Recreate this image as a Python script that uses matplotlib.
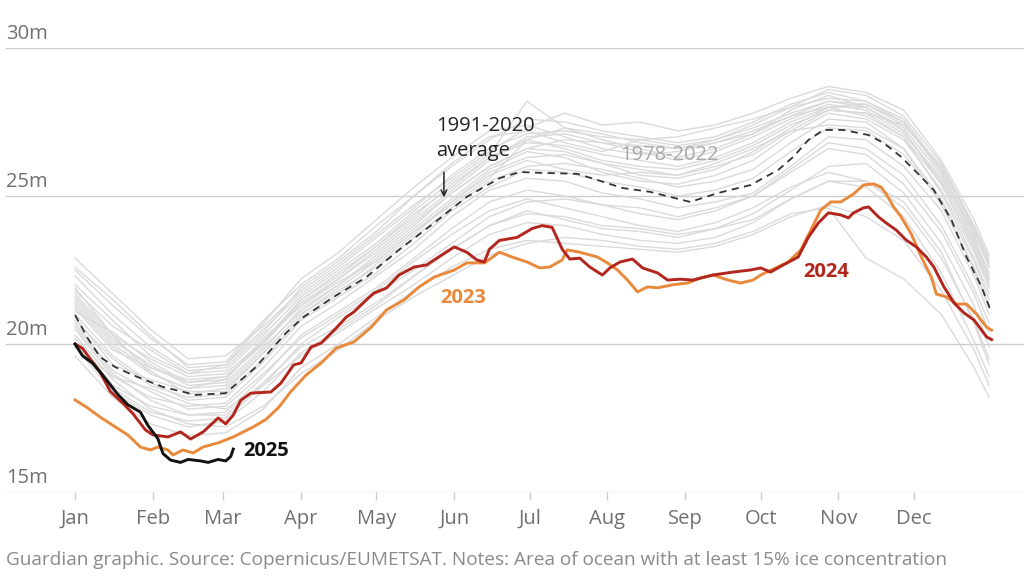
import numpy as np
import matplotlib
matplotlib.use("Agg")
import matplotlib.pyplot as plt
import matplotlib.transforms as mtransforms

plt.rcParams['font.family'] = ['Open Sans', 'DejaVu Sans']

# ---- data: global sea ice extent, million km2, by day of year ----
month_labels = ['Jan', 'Feb', 'Mar', 'Apr', 'May', 'Jun', 'Jul', 'Aug', 'Sep', 'Oct', 'Nov', 'Dec']
month_starts = [0, 31, 59, 90, 120, 151, 181, 212, 243, 273, 304, 334]
y_ticks = [15, 20, 25, 30]

avg_days = [0, 5, 10, 16, 23, 35, 48, 60, 66, 72, 79, 84, 91, 103, 116, 129, 143, 156, 169, 177,
            186, 200, 208, 218, 229, 245, 256, 269, 280, 286, 292, 298, 306, 316, 322, 329, 337,
            342, 349, 355, 361, 365]
avg_vals = [20.98, 20.2, 19.56, 19.22, 18.95, 18.55, 18.28, 18.34, 18.78, 19.22, 19.9, 20.37, 20.91,
            21.59, 22.26, 23.18, 24.09, 24.97, 25.6, 25.81, 25.78, 25.75, 25.54, 25.27, 25.14, 24.8,
            25.1, 25.37, 25.88, 26.32, 26.89, 27.23, 27.23, 27.06, 26.79, 26.32, 25.64, 25.2, 24.19,
            22.94, 21.93, 21.05]

y2023_days = [0, 5, 10, 16, 21, 26, 30, 33, 37, 39, 43, 47, 51, 57, 63, 71, 76, 81, 86, 92, 98, 104,
              111, 118, 124, 131, 137, 143, 151, 156, 163, 169, 174, 180, 185, 189, 194, 196, 201,
              208, 212, 216, 220, 224, 228, 232, 238, 244, 249, 254, 260, 265, 270, 273, 284, 289,
              293, 297, 301, 305, 310, 314, 318, 321, 323, 326, 329, 333, 337, 341, 343, 347, 351,
              355, 359, 363, 365]
y2023_vals = [18.11, 17.84, 17.53, 17.2, 16.93, 16.52, 16.42, 16.52, 16.42, 16.25, 16.42, 16.32, 16.52,
              16.66, 16.86, 17.2, 17.45, 17.85, 18.4, 18.95, 19.36, 19.86, 20.07, 20.57, 21.15, 21.49,
              21.93, 22.26, 22.5, 22.74, 22.74, 23.1, 22.94, 22.77, 22.57, 22.6, 22.84, 23.18, 23.1,
              22.94, 22.74, 22.5, 22.16, 21.76, 21.93, 21.9, 22.0, 22.06, 22.23, 22.33, 22.16, 22.06,
              22.16, 22.33, 22.77, 23.18, 23.85, 24.53, 24.8, 24.8, 25.07, 25.37, 25.41, 25.3, 25.07,
              24.63, 24.29, 23.72, 22.94, 22.26, 21.69, 21.59, 21.35, 21.35, 21.01, 20.57, 20.47]

y2024_days = [0, 3, 6, 10, 14, 19, 23, 25, 28, 31, 37, 42, 46, 51, 57, 60, 63, 66, 70, 78, 82, 87,
              90, 94, 98, 104, 108, 111, 116, 119, 124, 129, 135, 140, 143, 151, 156, 160, 163, 165,
              169, 176, 182, 186, 190, 194, 197, 201, 205, 210, 213, 217, 222, 226, 232, 236, 241,
              246, 254, 262, 269, 273, 277, 282, 288, 292, 296, 300, 305, 308, 310, 314, 316, 320,
              323, 327, 331, 335, 339, 342, 346, 350, 354, 358, 361, 363, 365]
y2024_vals = [20.0, 19.85, 19.5, 19.05, 18.4, 18.0, 17.65, 17.43, 17.1, 16.93, 16.86, 17.03, 16.79,
              17.03, 17.5, 17.3, 17.6, 18.1, 18.34, 18.38, 18.68, 19.29, 19.36, 19.9, 20.03, 20.54,
              20.91, 21.08, 21.49, 21.72, 21.89, 22.33, 22.6, 22.67, 22.84, 23.28, 23.1, 22.84, 22.77,
              23.2, 23.5, 23.6, 23.9, 24.0, 23.94, 23.2, 22.87, 22.9, 22.6, 22.33, 22.57, 22.77, 22.87,
              22.57, 22.4, 22.16, 22.19, 22.16, 22.33, 22.43, 22.5, 22.57, 22.43, 22.67, 22.94, 23.6,
              24.09, 24.43, 24.36, 24.26, 24.43, 24.6, 24.63, 24.29, 24.09, 23.85, 23.51, 23.28, 22.94,
              22.6, 21.93, 21.39, 21.05, 20.81, 20.47, 20.24, 20.15]

y2025_days = [0, 3, 7, 11, 17, 21, 26, 29, 33, 35, 38, 42, 45, 50, 53, 57, 60, 62, 63]
y2025_vals = [20.0, 19.6, 19.35, 18.95, 18.3, 17.95, 17.7, 17.25, 16.8, 16.3, 16.08, 16.0, 16.1, 16.05,
              16.0, 16.1, 16.05, 16.2, 16.45]

# 1978-2022 years (a sample of the grey spaghetti), on a 15-day grid
grey_days = [0, 15, 30, 45, 60, 75, 90, 105, 120, 135, 150, 165, 180, 195, 210, 225, 240, 255, 270,
             285, 300, 315, 330, 345, 358, 364]
grey_years = [
    [22.5, 21.3, 20.2, 19.3, 19.4, 20.8, 22.0, 22.9, 24.0, 25.0, 26.0, 26.9, 27.6, 27.5, 27.2, 27.0, 26.8, 27.0, 27.5, 28.1, 28.5, 28.2, 27.5, 25.8, 23.8, 22.6],
    [22.9, 21.7, 20.5, 19.5, 19.6, 20.6, 21.8, 22.7, 23.7, 24.7, 25.6, 26.5, 27.3, 27.8, 27.4, 27.5, 27.2, 27.4, 27.8, 28.3, 28.7, 28.5, 27.9, 26.2, 24.2, 23.0],
    [21.8, 20.6, 19.8, 19.0, 19.1, 20.3, 21.6, 22.5, 23.4, 24.5, 25.5, 26.4, 28.2, 27.3, 26.9, 26.6, 26.3, 26.6, 27.1, 27.9, 28.4, 28.0, 27.2, 25.4, 23.2, 22.0],
    [21.2, 19.8, 19.2, 18.8, 18.9, 20.0, 21.4, 22.2, 23.1, 24.1, 25.1, 26.0, 26.6, 26.9, 26.8, 26.5, 26.2, 26.5, 27.0, 27.6, 28.1, 27.9, 27.1, 25.6, 23.4, 22.3],
    [20.9, 19.3, 18.8, 18.4, 18.4, 19.7, 21.0, 21.8, 22.6, 23.6, 24.6, 25.5, 26.0, 26.1, 25.9, 25.6, 25.3, 25.5, 25.9, 26.8, 27.6, 27.5, 26.6, 24.9, 22.8, 21.5],
    [21.5, 20.1, 19.3, 18.6, 18.7, 19.9, 21.1, 22.0, 22.9, 23.9, 24.9, 25.9, 26.5, 26.3, 25.8, 25.5, 25.4, 25.7, 26.2, 27.1, 27.8, 27.6, 26.9, 25.2, 23.1, 21.9],
    [20.5, 18.9, 18.2, 17.9, 18.0, 19.2, 20.6, 21.4, 22.3, 23.2, 24.3, 25.2, 25.6, 25.5, 25.1, 24.9, 24.6, 24.8, 25.1, 26.0, 27.0, 26.9, 26.0, 24.5, 22.3, 21.0],
    [21.9, 20.3, 19.0, 18.5, 18.8, 20.2, 21.3, 22.1, 22.8, 23.8, 24.8, 25.7, 26.2, 25.9, 25.7, 25.8, 25.7, 26.1, 26.6, 27.2, 27.4, 27.3, 26.6, 24.7, 22.6, 21.3],
    [20.2, 18.6, 17.9, 17.6, 17.7, 18.9, 20.3, 21.1, 21.9, 22.9, 23.9, 24.8, 25.2, 25.0, 24.7, 24.6, 24.3, 24.6, 25.0, 25.8, 26.6, 26.4, 25.4, 23.8, 21.7, 20.4],
    [21.0, 19.6, 18.7, 18.1, 18.2, 19.4, 20.8, 21.6, 22.4, 23.4, 24.5, 25.3, 25.9, 25.8, 25.5, 25.3, 25.0, 25.2, 25.6, 26.5, 27.3, 27.2, 26.4, 24.8, 22.5, 21.2],
    [19.9, 18.4, 17.6, 17.2, 17.4, 18.4, 19.7, 20.5, 21.3, 22.3, 23.2, 24.0, 24.4, 24.3, 24.0, 23.9, 23.7, 23.9, 24.4, 25.2, 26.0, 26.1, 25.1, 23.4, 21.3, 19.9],
    [20.7, 19.1, 18.4, 17.8, 17.9, 19.0, 20.2, 21.0, 21.8, 22.8, 23.7, 24.5, 24.9, 24.6, 24.3, 24.0, 23.8, 24.1, 24.6, 25.3, 25.8, 25.5, 24.6, 22.9, 20.8, 19.5],
    [19.6, 18.2, 17.3, 16.9, 17.0, 17.8, 19.2, 20.0, 20.9, 21.8, 22.6, 23.2, 23.5, 23.4, 23.3, 23.2, 23.1, 23.3, 23.7, 24.3, 24.7, 24.3, 23.5, 21.8, 19.8, 18.6],
    [20.3, 18.8, 17.8, 17.3, 17.2, 17.9, 19.0, 19.8, 20.8, 21.6, 22.3, 23.0, 23.4, 23.6, 23.5, 23.3, 23.2, 23.4, 23.8, 24.4, 24.6, 22.9, 22.2, 21.0, 19.2, 18.2],
    [21.4, 20.0, 19.1, 18.3, 18.5, 19.7, 21.0, 21.9, 22.8, 23.8, 24.7, 25.6, 26.9, 26.6, 26.2, 26.0, 25.9, 26.2, 26.7, 27.4, 27.9, 27.8, 27.4, 26.0, 23.9, 22.6],
    [22.3, 21.0, 19.9, 19.1, 19.2, 20.4, 21.9, 22.8, 23.8, 25.0, 26.1, 27.0, 27.2, 26.8, 26.5, 26.9, 27.0, 27.3, 27.6, 28.0, 28.3, 28.2, 27.6, 25.9, 24.0, 22.8],
    [20.0, 18.5, 17.7, 17.4, 17.5, 18.6, 20.0, 20.9, 21.7, 22.5, 23.4, 24.3, 24.8, 24.9, 24.7, 24.4, 24.2, 24.5, 25.0, 25.9, 26.8, 26.6, 25.7, 24.0, 21.9, 20.7],
    [21.7, 20.3, 19.5, 18.9, 19.0, 20.1, 21.3, 22.2, 23.2, 24.2, 25.2, 26.2, 27.0, 27.1, 26.8, 26.7, 26.6, 26.9, 27.3, 27.8, 28.2, 28.0, 27.3, 25.7, 23.6, 22.4],
    [20.6, 19.0, 18.1, 17.6, 17.6, 18.7, 19.9, 20.6, 21.4, 22.3, 23.2, 24.0, 24.5, 24.2, 23.9, 23.8, 23.6, 23.9, 24.2, 24.9, 25.5, 25.5, 24.8, 23.1, 20.7, 19.3],
    [21.3, 19.9, 19.0, 18.5, 18.6, 19.8, 21.2, 22.0, 23.0, 24.0, 25.1, 26.0, 26.6, 26.5, 26.1, 25.9, 25.7, 26.0, 26.4, 27.2, 27.9, 27.8, 27.0, 25.4, 23.3, 22.1],
    [22.0, 20.8, 19.6, 19.0, 19.3, 20.5, 21.7, 22.6, 23.6, 24.6, 25.7, 26.6, 27.1, 27.2, 27.0, 26.9, 26.7, 26.9, 27.4, 28.0, 28.6, 28.4, 27.7, 26.1, 24.0, 22.9],
    [21.1, 20.4, 19.4, 18.7, 18.8, 20.1, 21.5, 22.4, 23.3, 24.4, 25.3, 26.3, 26.8, 26.7, 26.4, 26.2, 26.0, 26.3, 26.8, 27.5, 28.0, 28.1, 27.5, 25.8, 23.7, 22.2],
    [22.6, 21.5, 20.3, 19.2, 19.3, 20.7, 22.2, 23.1, 24.2, 25.3, 26.3, 27.2, 27.4, 27.0, 26.6, 26.4, 26.5, 26.8, 27.2, 27.7, 28.0, 27.7, 27.0, 25.1, 22.9, 21.7],
    [20.8, 19.5, 18.6, 18.2, 18.3, 19.5, 20.9, 21.7, 22.7, 23.7, 24.8, 25.8, 26.3, 26.4, 26.1, 25.7, 25.6, 25.9, 26.5, 27.3, 28.0, 28.0, 27.2, 25.5, 23.5, 22.2],
    [19.9, 18.9, 18.5, 18.0, 17.8, 18.6, 19.6, 20.4, 21.2, 22.0, 22.9, 23.7, 24.1, 24.0, 23.7, 23.5, 23.4, 23.6, 24.1, 24.9, 25.5, 25.3, 24.3, 22.4, 20.1, 18.9],
    [21.6, 20.2, 19.2, 18.7, 18.9, 20.0, 21.5, 22.3, 23.3, 24.3, 25.4, 26.3, 26.9, 27.3, 27.1, 26.8, 26.6, 26.8, 27.1, 27.7, 28.2, 28.1, 27.4, 26.0, 23.9, 22.7],
]

# ---- colours ----
grid_col = '#cccccc'
label_col = '#707070'
grey_col = '#dadada'
red = '#b3261e'
orange = '#e9893b'
black = '#121212'

fig = plt.figure(figsize=(10.24, 5.85), dpi=100)
ax = fig.add_axes([6 / 1024, 1 - 492 / 585, 1 - 6 / 1024, (492 - 48) / 585])
ax.set_xlim(-27.5, 377.9)
ax.set_ylim(15, 30)
for s in ax.spines.values():
    s.set_visible(False)
ax.set_yticks([])

for v in y_ticks:
    ax.axhline(v, color=grid_col, lw=1, zorder=0)
    ax.text(0.0, v + 0.12, f'{v}m', transform=mtransforms.blended_transform_factory(ax.transAxes, ax.transData),
            ha='left', va='bottom', fontsize=14.5, color=label_col)

for vals in grey_years:
    ax.plot(grey_days, vals, color=grey_col, lw=1, zorder=1, solid_joinstyle='round')

ax.plot(avg_days, avg_vals, color='#333333', lw=1.3, ls=(0, (4, 3)), zorder=3)
ax.plot(y2023_days, y2023_vals, color=orange, lw=2.1, zorder=4)
ax.plot(y2024_days, y2024_vals, color=red, lw=2.1, zorder=5)
ax.plot(y2025_days, y2025_vals, color=black, lw=2.1, zorder=6)

ax.set_xticks(month_starts)
ax.set_xticklabels(month_labels)
ax.tick_params(axis='x', length=6, width=1, color=grid_col, labelsize=14.5, labelcolor=label_col, pad=6)

# labels
ax.text(67, 16.38, '2025', color=black, fontsize=14.5, fontweight='bold', ha='left', va='center')
ax.text(145.4, 21.55, '2023', color=orange, fontsize=14.5, fontweight='bold', ha='left', va='center')
ax.text(290, 22.43, '2024', color=red, fontsize=14.5, fontweight='bold', ha='left', va='center')
ax.text(217, 26.39, '1978-2022', color='#a8a8a8', fontsize=14.5, ha='left', va='center')
ax.text(143.8, 26.94, '1991-2020\naverage', color='#222222', fontsize=14.5, ha='left', va='center',
        linespacing=1.3)
ax.annotate('', xy=(146.9, 24.86), xytext=(146.9, 25.9),
            arrowprops=dict(arrowstyle='->', color='#222222', lw=1.1))

fig.text(6 / 1024, 1 - 560 / 585, 'Guardian graphic. Source: Copernicus/EUMETSAT. Notes: Area of ocean with at least 15% ice concentration',
         ha='left', va='center', fontsize=13.7, color='#8a8a8a')

fig.savefig('out.png', dpi=100)
